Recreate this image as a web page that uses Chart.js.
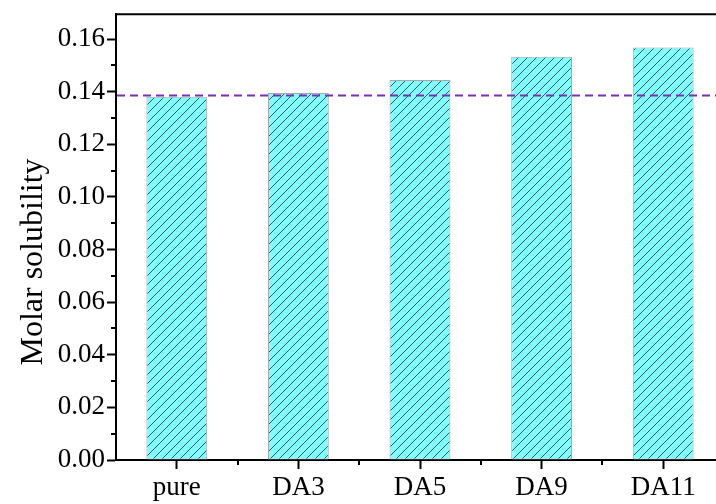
<!DOCTYPE html>
<html>
<head>
<meta charset="utf-8">
<script src="https://cdn.jsdelivr.net/npm/chart.js@4"></script>
<style>
  html, body { margin: 0; padding: 0; background: #fff; overflow: hidden; }
  #wrap { position: absolute; left: 0; top: 0; width: 740px; height: 504px; }
</style>
</head>
<body>
<div id="wrap"><canvas id="solChart"></canvas></div>
<script>
// -- DATA
const categories = ["pure", "DA3", "DA5", "DA9", "DA11"];
const solubility = [0.1381, 0.1395, 0.1445, 0.1533, 0.1568];
const yTickValues = [0, 0.02, 0.04, 0.06, 0.08, 0.10, 0.12, 0.14, 0.16];
const yMinorValues = [0.01, 0.03, 0.05, 0.07, 0.09, 0.11, 0.13, 0.15];
const referenceLevel = 0.1386;
const yAxisTitle = "Molar solubility";

const FONT = "'Liberation Serif', 'Times New Roman', serif";

// hatch pattern for bars
function makeHatch() {
    const n = 9;
    const c = document.createElement("canvas");
    c.width = n;
    c.height = n;
    const g = c.getContext("2d");
    g.fillStyle = "#80ffff";
    g.fillRect(0, 0, n, n);
    g.strokeStyle = "#2e5a5a";
    g.lineWidth = 1;
    g.beginPath();
    g.moveTo(0, n); g.lineTo(n, 0);
    g.moveTo(-n / 2, n / 2); g.lineTo(n / 2, -n / 2);
    g.moveTo(n / 2, n * 1.5); g.lineTo(n * 1.5, n / 2);
    g.stroke();
    return g.createPattern(c, "repeat");
}

// -- EXTRA DRAWING: minor ticks, top frame, reference line, y title
const extras = {
    id: "extras",
    afterDraw(chart) {
        const ctx = chart.ctx;
        const area = chart.chartArea;
        const x = chart.scales.x;
        const y = chart.scales.y;
        ctx.save();
        ctx.strokeStyle = "#000";
        ctx.lineWidth = 2;
        // minor y ticks
        yMinorValues.forEach(v => {
            const py = Math.round(y.getPixelForValue(v));
            ctx.beginPath();
            ctx.moveTo(area.left, py);
            ctx.lineTo(area.left - 5, py);
            ctx.stroke();
        });
        // minor x ticks between categories
        for (let i = 0; i < categories.length; i++) {
            const px = Math.round(x.getPixelForValue(i + 0.5));
            ctx.beginPath();
            ctx.moveTo(px, area.bottom);
            ctx.lineTo(px, area.bottom + 5);
            ctx.stroke();
        }
        // top frame
        ctx.beginPath();
        ctx.moveTo(area.left - 1, area.top);
        ctx.lineTo(chart.width, area.top);
        ctx.stroke();
        // reference dashed line
        const ry = y.getPixelForValue(referenceLevel);
        ctx.strokeStyle = "#7a2fb8";
        ctx.lineWidth = 2;
        ctx.setLineDash([8, 5]);
        ctx.beginPath();
        ctx.moveTo(area.left + 1, ry);
        ctx.lineTo(chart.width, ry);
        ctx.stroke();
        ctx.setLineDash([]);
        // y title
        ctx.translate(34, 262);
        ctx.rotate(-Math.PI / 2);
        ctx.fillStyle = "#000";
        ctx.font = "32px " + FONT;
        ctx.textAlign = "center";
        ctx.textBaseline = "middle";
        ctx.fillText(yAxisTitle, 0, 0);
        ctx.restore();
    }
};

const ctx = document.getElementById("solChart").getContext("2d");
const chart = new Chart(ctx, {
    type: "bar",
    data: {
        labels: categories,
        datasets: [{
            data: solubility,
            backgroundColor: makeHatch(),
            borderColor: "#a8a8a8",
            borderWidth: 1,
            borderSkipped: false,
            barPercentage: 0.5,
            categoryPercentage: 1.0
        }]
    },
    options: {
        responsive: true,
        maintainAspectRatio: false,
        animation: false,
        devicePixelRatio: 1,
        layout: { padding: { top: 13, right: 16, left: 0, bottom: 0 } },
        plugins: {
            legend: { display: false },
            tooltip: { enabled: false }
        },
        scales: {
            x: {
                offset: true,
                grid: {
                    offset: false,
                    drawOnChartArea: false,
                    tickLength: 9,
                    tickWidth: 2,
                    tickColor: "#000"
                },
                border: { color: "#000", width: 2 },
                ticks: {
                    color: "#000",
                    font: { family: FONT, size: 27 },
                    padding: 3,
                    maxRotation: 0
                },
                afterFit(s) { s.height = 44; }
            },
            y: {
                min: 0,
                max: 0.1695,
                afterBuildTicks(s) { s.ticks = yTickValues.map(v => ({ value: v })); },
                grid: {
                    drawOnChartArea: false,
                    tickLength: 9,
                    tickWidth: 2,
                    tickColor: "#000"
                },
                border: { color: "#000", width: 2 },
                ticks: {
                    color: "#000",
                    font: { family: FONT, size: 27, lineHeight: 0.9 },
                    padding: 2,
                    callback: v => v.toFixed(2)
                },
                afterFit(s) { s.width = 116; }
            }
        }
    },
    plugins: [extras]
});
</script>
</body>
</html>
